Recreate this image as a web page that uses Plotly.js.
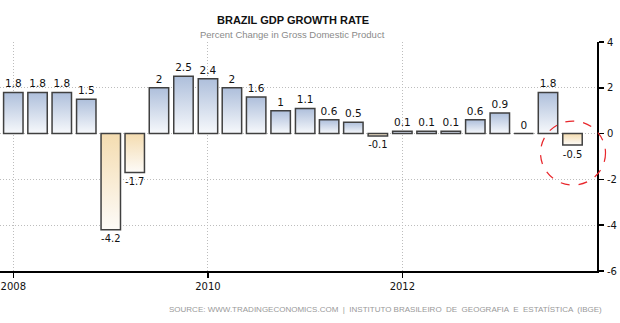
<!DOCTYPE html>
<html>
<head>
<meta charset="utf-8">
<script src="https://cdn.plot.ly/plotly-3.0.1.min.js"></script>
<style>
  html, body { margin: 0; padding: 0; background: #fff; }
  #chart { width: 620px; height: 323px; }
</style>
</head>
<body>
<div id="chart"></div>
<script>
// ---- data ----
const quarters = [
  '2008-01-01','2008-04-01','2008-07-01','2008-10-01',
  '2009-01-01','2009-04-01','2009-07-01','2009-10-01',
  '2010-01-01','2010-04-01','2010-07-01','2010-10-01',
  '2011-01-01','2011-04-01','2011-07-01','2011-10-01',
  '2012-01-01','2012-04-01','2012-07-01','2012-10-01',
  '2013-01-01','2013-04-01','2013-07-01','2013-10-01'
];
const growth = [1.8, 1.8, 1.8, 1.5, -4.2, -1.7, 2, 2.5, 2.4, 2, 1.6, 1, 1.1, 0.6, 0.5, -0.1, 0.1, 0.1, 0.1, 0.6, 0.9, 0, 1.8, -0.5];
const yTicks = [-6, -4, -2, 0, 2, 4];
const yTickText = ['-6', '-4', '-2', '0', '2', '4'];
const xTickYears = ['2008-01-01', '2010-01-01', '2012-01-01'];
const xTickText = ['2008', '2010', '2012'];

const titleText = 'BRAZIL GDP GROWTH RATE';
const subtitleText = 'Percent Change in Gross Domestic Product';
const sourceText = 'SOURCE: WWW.TRADINGECONOMICS.COM  |  INSTITUTO BRASILEIRO  DE  GEOGRAFIA  E  ESTATÍSTICA  (IBGE)';

// ---- chart ----
const xRange = ['2007-11-12', '2014-01-01'];
const yRange = [-6, 4];
const DAY = 86400000;

const labelText = growth.map(v => String(v));

const trace = {
  type: 'bar',
  x: quarters,
  y: growth,
  width: quarters.map(() => 73 * DAY),
  text: labelText,
  texttemplate: '%{text}',
  textposition: 'outside',
  cliponaxis: false,
  textfont: { family: 'DejaVu Sans', size: 10.5, color: '#111' },
  marker: {
    color: growth.map(v => v >= 0 ? '#d3ddec' : '#f9ead0'),
    line: { color: '#404040', width: 1.5 }
  },
  hoverinfo: 'x+y'
};

// highlight circle around last point, positioned from the data via axis ranges
const lastIdx = growth.length - 1;
const t0 = Date.parse(xRange[0]), t1 = Date.parse(xRange[1]);
const px = (Date.parse(quarters[lastIdx]) - t0) / (t1 - t0);
const py = (growth[lastIdx] - yRange[0]) / (yRange[1] - yRange[0]);

const gridDash = '1px,2px';

const layout = {
  width: 620,
  height: 323,
  margin: { l: 0, r: 23, t: 42, b: 52 },
  paper_bgcolor: '#fff',
  plot_bgcolor: '#fff',
  showlegend: false,
  font: { family: 'DejaVu Sans', size: 10, color: '#111' },
  xaxis: {
    type: 'date',
    range: xRange,
    tickvals: xTickYears,
    ticktext: xTickText,
    ticks: 'outside',
    ticklen: 5,
    tickwidth: 1.5,
    tickcolor: '#000',
    showline: true,
    linecolor: '#000',
    linewidth: 2,
    showgrid: true,
    gridcolor: '#bdbdbd',
    griddash: gridDash,
    gridwidth: 1,
    zeroline: false,
    ticklabeloverflow: 'allow',
    tickfont: { family: 'DejaVu Sans', size: 10, color: '#111' },
    fixedrange: true
  },
  yaxis: {
    side: 'right',
    range: yRange,
    tickvals: yTicks,
    ticktext: yTickText,
    ticks: 'outside',
    ticklen: 5,
    tickwidth: 1.5,
    tickcolor: '#000',
    showline: true,
    linecolor: '#000',
    linewidth: 2,
    showgrid: true,
    gridcolor: '#bdbdbd',
    griddash: gridDash,
    gridwidth: 1,
    zeroline: false,
    ticklabeloverflow: 'allow',
    ticklabelstandoff: 1,
    tickfont: { family: 'DejaVu Sans', size: 10, color: '#111' },
    fixedrange: true
  },
  annotations: [
    {
      text: '<b>' + titleText + '</b>',
      xref: 'paper', yref: 'paper',
      x: 0.49, y: 1, yshift: 22,
      xanchor: 'center', yanchor: 'middle',
      showarrow: false,
      font: { family: 'Liberation Sans', size: 11, color: '#111' }
    },
    {
      text: subtitleText,
      xref: 'paper', yref: 'paper',
      x: 0.49, y: 1, yshift: 8,
      xanchor: 'center', yanchor: 'middle',
      showarrow: false,
      font: { family: 'Liberation Sans', size: 9.5, color: '#8a8a8a' }
    },
    {
      text: sourceText,
      xref: 'paper', yref: 'paper',
      x: 1, y: 0, xshift: 7, yshift: -38,
      xanchor: 'right', yanchor: 'middle',
      showarrow: false,
      font: { family: 'Liberation Sans', size: 8, color: '#999' }
    }
  ],
  shapes: [
    {
      type: 'circle',
      xref: 'paper', yref: 'paper',
      xsizemode: 'pixel', ysizemode: 'pixel',
      xanchor: px, yanchor: py,
      x0: -32, x1: 33, y0: -40, y1: 24,
      line: { color: '#e8262b', width: 1.2, dash: 'dash' },
      fillcolor: 'rgba(0,0,0,0)',
      layer: 'above'
    }
  ]
};

Plotly.newPlot('chart', [trace], layout, { staticPlot: true, displayModeBar: false }).then(gd => {
  // apply vertical gradient fills to the bars drawn by Plotly
  const svg = gd.querySelector('svg.main-svg');
  let defs = svg.querySelector('defs');
  const NS = 'http://www.w3.org/2000/svg';
  function addGrad(id, top, bottom) {
    const g = document.createElementNS(NS, 'linearGradient');
    g.setAttribute('id', id);
    g.setAttribute('x1', '0'); g.setAttribute('y1', '0');
    g.setAttribute('x2', '0'); g.setAttribute('y2', '1');
    const s1 = document.createElementNS(NS, 'stop');
    s1.setAttribute('offset', '0'); s1.setAttribute('stop-color', top);
    const s2 = document.createElementNS(NS, 'stop');
    s2.setAttribute('offset', '1'); s2.setAttribute('stop-color', bottom);
    g.appendChild(s1); g.appendChild(s2);
    defs.appendChild(g);
  }
  addGrad('gradPos', '#aebfdb', '#f7f9fc');
  addGrad('gradNeg', '#f4dcb0', '#fdfbf8');
  const paths = gd.querySelectorAll('.barlayer .point path');
  paths.forEach((p, i) => {
    const v = growth[i];
    p.style.fill = v >= 0 ? 'url(#gradPos)' : 'url(#gradNeg)';
  });
});
</script>
</body>
</html>
